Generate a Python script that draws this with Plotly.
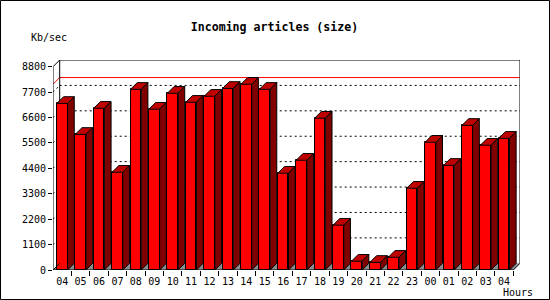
import plotly.graph_objects as go

# ---- data ----
hours = ["04", "05", "06", "07", "08", "09", "10", "11", "12", "13", "14", "15",
         "16", "17", "18", "19", "20", "21", "22", "23", "00", "01", "02", "03", "04"]
kb_per_sec = [7210, 5870, 7000, 4230, 7820, 6960, 7650, 7260, 7520, 7860, 8040, 7820,
              4190, 4750, 6570, 1940, 380, 330, 550, 3540, 5530, 4530, 6260, 5400, 5700]
y_ticks = [0, 1100, 2200, 3300, 4400, 5500, 6600, 7700, 8800]

# ---- style constants ----
W, H = 550, 300
ML, MR, MT, MB = 53, 30, 60, 30
BAR_W = 0.58
DX = 0.364          # depth offset in x units (~6.7px)
YMAX = y_ticks[-1]
DY = 290            # depth offset in y units (~6.7px)
FRONT = "#FF0000"
TOP = "#C00000"
SIDE = "#800000"
FLOOR = "#8C8C8C"
MONO = "DejaVu Sans Mono"

n = len(hours)
xs = list(range(n))
x0, x1 = -0.5, n - 0.5

fig = go.Figure()

# front faces
fig.add_trace(go.Bar(x=xs, y=kb_per_sec, width=BAR_W,
                     marker=dict(color=FRONT, line=dict(color="black", width=1)),
                     hoverinfo="skip", showlegend=False))

# top and side faces
tx, ty, sx, sy = [], [], [], []
for i, v in zip(xs, kb_per_sec):
    l, r = i - BAR_W / 2, i + BAR_W / 2
    tx += [l, l + DX, r + DX, r, l, None]
    ty += [v, v + DY, v + DY, v, v, None]
    sx += [r, r, r + DX, r + DX, r, None]
    sy += [0, v, v + DY, DY, 0, None]
fig.add_trace(go.Scatter(x=tx, y=ty, mode="lines", fill="toself", fillcolor=TOP,
                         line=dict(color="black", width=1), hoverinfo="skip", showlegend=False))
fig.add_trace(go.Scatter(x=sx, y=sy, mode="lines", fill="toself", fillcolor=SIDE,
                         line=dict(color="black", width=1), hoverinfo="skip", showlegend=False))

shapes = []
# floor
shapes.append(dict(type="path", xref="x", yref="y", layer="below",
                   path=f"M{x0},0 L{x1},0 L{x1+DX},{DY} L{x0+DX},{DY} Z",
                   fillcolor=FLOOR, line=dict(width=0)))
# dotted gridlines at back and on left wall
for t in y_ticks[1:-1]:
    shapes.append(dict(type="line", xref="x", yref="y", layer="below",
                       x0=x0 + DX, x1=x1 + DX, y0=t + DY, y1=t + DY,
                       line=dict(color="black", width=1, dash="2px,3px")))
    shapes.append(dict(type="line", xref="x", yref="y", layer="below",
                       x0=x0, x1=x0 + DX, y0=t, y1=t + DY,
                       line=dict(color="black", width=1, dash="2px,3px")))
# max line (red)
vmax = max(kb_per_sec)
shapes.append(dict(type="path", xref="x", yref="y", layer="below",
                   path=f"M{x0},{vmax} L{x0+DX},{vmax+DY} L{x1+DX},{vmax+DY}",
                   line=dict(color="#FF0000", width=1)))
# back box (left, top, right)
shapes.append(dict(type="path", xref="x", yref="y", layer="below",
                   path=f"M{x0+DX},{DY} L{x0+DX},{YMAX+DY} L{x1+DX},{YMAX+DY} L{x1+DX},{DY}",
                   line=dict(color="black", width=1)))
# front axes + diagonals
axis_paths = [
    f"M{x0},{YMAX} L{x0},0 L{x1},0 L{x1+DX},{DY}",
    f"M{x0},{YMAX} L{x0+DX},{YMAX+DY}",
    f"M{x0},0 L{x0+DX},{DY}",
]
for p in axis_paths:
    shapes.append(dict(type="path", xref="x", yref="y", layer="above",
                       path=p, line=dict(color="black", width=1)))
# outer border
pw, ph = W - ML - MR, H - MT - MB
shapes.append(dict(type="rect", xref="paper", yref="paper",
                   x0=(0.5 - ML) / pw, x1=(W - 0.5 - ML) / pw,
                   y0=(H - MB - (H - 0.5)) / ph, y1=(H - MB - 0.5) / ph,
                   line=dict(color="black", width=1), fillcolor="rgba(0,0,0,0)"))

fig.update_layout(
    width=W, height=H,
    margin=dict(l=ML, r=MR, t=MT, b=MB, pad=0),
    paper_bgcolor="white", plot_bgcolor="white",
    showlegend=False, bargap=0,
    shapes=shapes,
    title=dict(text="<b>Incoming articles (size)</b>", x=274.5 / W, xref="container",
               xanchor="center", y=1 - 26.7 / H, yanchor="middle",
               font=dict(family=MONO, size=11.6, color="black")),
    annotations=[
        dict(text="Kb/sec", xref="paper", yref="paper", x=(29 - ML) / pw, y=(H - MB - 37.7) / ph,
             xanchor="left", yanchor="middle", showarrow=False,
             font=dict(family=MONO, size=10, color="black")),
        dict(text="Hours", xref="paper", yref="paper", x=(535 - ML) / pw, y=(H - MB - 292.5) / ph,
             xanchor="right", yanchor="middle", showarrow=False,
             font=dict(family=MONO, size=10, color="black")),
    ],
    xaxis=dict(range=[x0, x1 + DX], tickmode="array", tickvals=xs, ticktext=hours,
               ticks="outside", ticklen=2, tickcolor="rgba(0,0,0,0)",
               showgrid=False, zeroline=False, showline=False, fixedrange=True,
               tickfont=dict(family=MONO, size=10, color="black"),
               minor=dict(tickmode="array", tickvals=[i + 0.5 for i in xs],
                          ticks="outside", ticklen=5, tickcolor="black", tickwidth=1, showgrid=False)),
    yaxis=dict(range=[0, YMAX + DY], tickmode="array", tickvals=y_ticks,
               ticktext=[str(t) for t in y_ticks],
               ticks="outside", ticklen=4, tickcolor="black", tickwidth=1,
               showgrid=False, zeroline=False, showline=False, fixedrange=True,
               tickfont=dict(family=MONO, size=10, color="black")),
)

fig.write_html("out.html")
